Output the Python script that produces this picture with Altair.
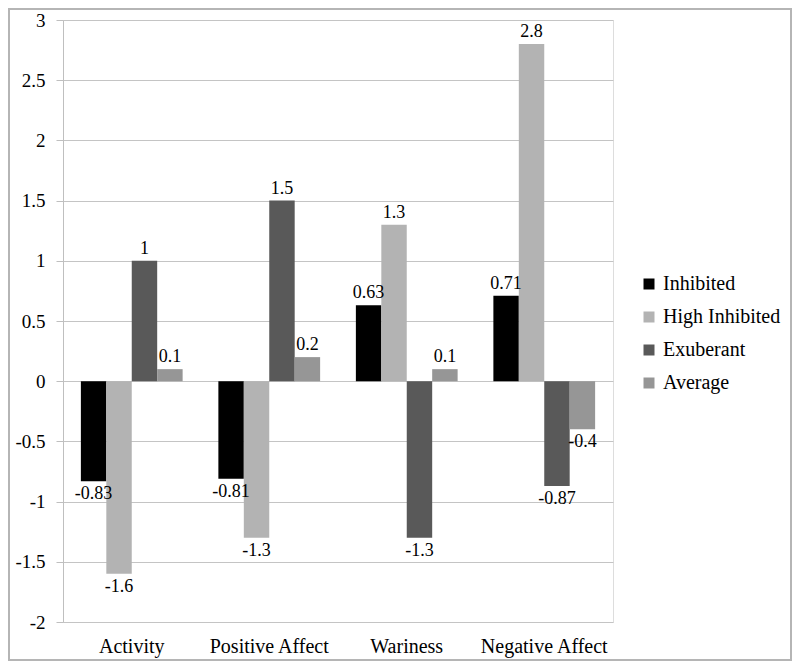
import altair as alt
import pandas as pd

categories = ["Activity", "Positive Affect", "Wariness", "Negative Affect"]
series = ["Inhibited", "High Inhibited", "Exuberant", "Average"]
colors = ["#000000", "#b3b3b3", "#595959", "#969696"]
values = {
    "Inhibited": [-0.83, -0.81, 0.63, 0.71],
    "High Inhibited": [-1.6, -1.3, 1.3, 2.8],
    "Exuberant": [1, 1.5, -1.3, -0.87],
    "Average": [0.1, 0.2, 0.1, -0.4],
}
labels = {
    "Inhibited": ["-0.83", "-0.81", "0.63", "0.71"],
    "High Inhibited": ["-1.6", "-1.3", "1.3", "2.8"],
    "Exuberant": ["1", "1.5", "-1.3", "-0.87"],
    "Average": ["0.1", "0.2", "0.1", "-0.4"],
}
y_ticks = [-2, -1.5, -1, -0.5, 0, 0.5, 1, 1.5, 2, 2.5, 3]

rows = []
for s in series:
    for i, c in enumerate(categories):
        rows.append({"category": c, "series": s, "value": values[s][i], "label": labels[s][i]})
df = pd.DataFrame(rows)

FONT = "Liberation Serif"

x_enc = alt.X("category:N", sort=categories, title=None,
              scale=alt.Scale(paddingInner=0.26, paddingOuter=0.13),
              axis=alt.Axis(labelAngle=0, ticks=False, domain=False, labelPadding=14,
                            labelFontSize=20, labelFont=FONT, labelColor="#000000"))
xo_enc = alt.XOffset("series:N", sort=series, scale=alt.Scale(paddingInner=0, paddingOuter=0))
y_enc = alt.Y("value:Q", title=None,
              scale=alt.Scale(domain=[-2, 3], nice=False, zero=False),
              axis=alt.Axis(values=y_ticks, labelExpr="toString(datum.value)",
                            labelFontSize=19, labelFont=FONT,
                            labelColor="#000000", tickSize=7, tickColor="#bfbfbf",
                            labelPadding=11, domainColor="#bfbfbf", gridColor="#c4c4c4"))

base = alt.Chart(df)

bars = base.mark_bar().encode(
    x=x_enc, xOffset=xo_enc, y=y_enc, y2=alt.datum(0),
    color=alt.Color("series:N", sort=series,
                    scale=alt.Scale(domain=series, range=colors),
                    legend=alt.Legend(title=None, orient="none", legendX=576, legendY=254,
                                      labelFontSize=20, labelFont=FONT, labelColor="#000000",
                                      symbolType="square", symbolSize=121, symbolStrokeWidth=0,
                                      rowPadding=13, labelOffset=4)),
)

pos_text = base.transform_filter("datum.value >= 0").mark_text(
    baseline="bottom", dy=-3, fontSize=18, font=FONT, color="#000000"
).encode(x=x_enc, xOffset=xo_enc, y=y_enc, text="label:N")

neg_text = base.transform_filter("datum.value < 0").mark_text(
    baseline="top", dy=4, fontSize=18, font=FONT, color="#000000"
).encode(x=x_enc, xOffset=xo_enc, y=y_enc, text="label:N")

border = alt.Chart(pd.DataFrame({"a": [0]})).mark_rect(
    fillOpacity=0, stroke="#b5b5b5", strokeWidth=2
).encode(x=alt.value(-54), x2=alt.value(728), y=alt.value(-11), y2=alt.value(640))

chart = alt.layer(bars, pos_text, neg_text, border).properties(
    width=550, height=602,
    autosize=alt.AutoSizeParams(type="none"),
    padding={"left": 55, "top": 12, "right": 179, "bottom": 39},
).configure_view(stroke=None).configure(background="#ffffff")

chart.save("out.html", embed_options={"renderer": "svg", "actions": False})
